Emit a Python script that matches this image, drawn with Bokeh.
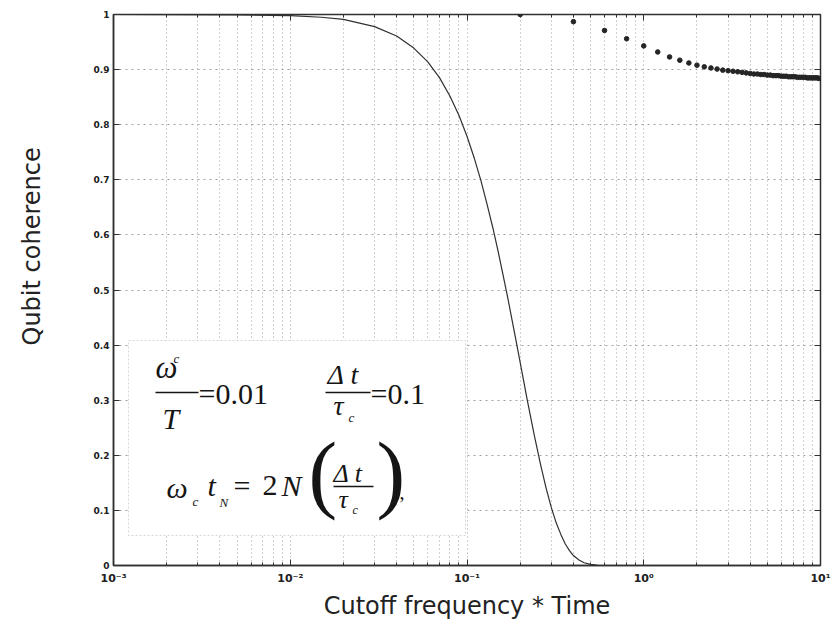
import math
from bokeh.plotting import figure
from bokeh.models import (FixedTicker, CustomJSTickFormatter, LinearAxis, LogAxis,
                          BoxAnnotation, Label, Title)
from bokeh.embed import file_html
from bokeh.resources import INLINE

# ---------------- data ----------------
curve_x = [0.001, 0.005, 0.01, 0.015, 0.02, 0.03, 0.04, 0.05, 0.06, 0.07, 0.08, 0.09,
           0.10, 0.11, 0.12, 0.13, 0.14, 0.15, 0.16, 0.17, 0.18, 0.19, 0.20, 0.22,
           0.24, 0.26, 0.28, 0.30, 0.32, 0.34, 0.36, 0.38, 0.40, 0.43, 0.46, 0.50,
           0.55, 0.60]
curve_y = [1.0, 0.9995, 0.998, 0.995, 0.991, 0.978, 0.961, 0.939, 0.914, 0.885, 0.852,
           0.817, 0.779, 0.739, 0.698, 0.655, 0.613, 0.570, 0.527, 0.486, 0.445, 0.406,
           0.368, 0.298, 0.237, 0.185, 0.141, 0.105, 0.077, 0.056, 0.039, 0.027, 0.018,
           0.010, 0.005, 0.002, 0.0005, 0.0]

dots_x = [0.2, 0.4, 0.6, 0.8, 1.0, 1.2, 1.4, 1.6, 1.8, 2.0, 2.2, 2.4, 2.6, 2.8, 3.0,
          3.2, 3.4, 3.6, 3.8, 4.0, 4.2, 4.4, 4.6, 4.8, 5.0, 5.2, 5.4, 5.6, 5.8, 6.0,
          6.2, 6.4, 6.6, 6.8, 7.0, 7.2, 7.4, 7.6, 7.8, 8.0, 8.2, 8.4, 8.6, 8.8, 9.0,
          9.2, 9.4, 9.6, 9.8, 10.0]
dots_y = [1.0, 0.987, 0.971, 0.956, 0.943, 0.932, 0.923, 0.917, 0.912, 0.908, 0.905,
          0.903, 0.901, 0.899, 0.898, 0.897, 0.896, 0.895, 0.894, 0.893, 0.892, 0.892,
          0.891, 0.891, 0.890, 0.890, 0.889, 0.889, 0.889, 0.888, 0.888, 0.888, 0.887,
          0.887, 0.887, 0.887, 0.886, 0.886, 0.886, 0.886, 0.886, 0.885, 0.885, 0.885,
          0.885, 0.885, 0.885, 0.885, 0.884, 0.884]

y_ticks = [0, 0.1, 0.2, 0.3, 0.4, 0.5, 0.6, 0.7, 0.8, 0.9, 1.0]
x_major = [0.001, 0.01, 0.1, 1, 10]

x_title = "Cutoff frequency * Time"
y_title = "Qubit coherence"

# ---------------- layout ----------------
W, H = 832, 629
FL, FR, FT, FB = 113, 12, 14, 64
FW, FH = W - FL - FR, H - FT - FB
X0, X1 = 1e-3, 10.0
NDEC = math.log10(X1) - math.log10(X0)


def px2x(px):
    return 10 ** (math.log10(X0) + (px - FL) / FW * NDEC)


def py2y(py):
    return (FT + FH - py) / FH


p = figure(width=W, height=H, x_axis_type="log", x_range=(X0, X1), y_range=(0, 1),
           output_backend="svg", toolbar_location=None,
           min_border_left=FL, min_border_right=FR, min_border_top=FT, min_border_bottom=FB)
p.background_fill_color = "white"
p.border_fill_color = "white"
p.outline_line_color = "#303030"
p.outline_line_width = 1.5

x_minor = [k * 10 ** e for e in range(-3, 1) for k in range(2, 10)]
xticker = FixedTicker(ticks=x_major, minor_ticks=x_minor)
yticker = FixedTicker(ticks=y_ticks)

xfmt = CustomJSTickFormatter(code="""
const sup = {'-':'\u207b','0':'\u2070','1':'\u00b9','2':'\u00b2','3':'\u00b3','4':'\u2074',
             '5':'\u2075','6':'\u2076','7':'\u2077','8':'\u2078','9':'\u2079'};
const e = Math.round(Math.log10(tick));
return '10' + String(e).split('').map(c => sup[c]).join('');
""")
yfmt = CustomJSTickFormatter(code="return (Math.round(tick*10)/10).toString();")
blank = CustomJSTickFormatter(code="return '';")

xa = p.below[0]
xa.ticker = xticker
xa.formatter = xfmt
xa.major_tick_in = 6
xa.major_tick_out = 0
xa.minor_tick_in = 3
xa.minor_tick_out = 0
xa.axis_line_color = "#303030"
xa.axis_line_width = 1.5
xa.major_tick_line_color = "#303030"
xa.minor_tick_line_color = "#303030"
xa.major_label_standoff = 6
xa.major_label_text_font = "DejaVu Sans"
xa.major_label_text_font_style = "bold"
xa.major_label_text_font_size = "11px"
xa.major_label_text_color = "#202020"
xa.axis_label = x_title
xa.axis_label_standoff = 4
xa.axis_label_text_font = "DejaVu Sans"
xa.axis_label_text_font_style = "normal"
xa.axis_label_text_font_size = "24px"
xa.axis_label_text_color = "#222222"

ya = p.left[0]
ya.ticker = yticker
ya.formatter = yfmt
ya.major_tick_in = 6
ya.major_tick_out = 0
ya.minor_tick_line_color = None
ya.axis_line_color = "#303030"
ya.axis_line_width = 1.5
ya.major_tick_line_color = "#303030"
ya.major_label_standoff = 4
ya.major_label_text_font = "DejaVu Sans"
ya.major_label_text_font_style = "bold"
ya.major_label_text_font_size = "9px"
ya.major_label_text_color = "#202020"

# spacer between the y tick labels and the y title, then the title itself
p.add_layout(Title(text=" ", standoff=37, text_font_size="1px"), "left")
p.add_layout(Title(text=y_title, align="left", offset=220, standoff=6, vertical_align="top",
                   text_font="DejaVu Sans", text_font_style="normal",
                   text_font_size="24px", text_color="#222222"), "left")

# mirrored tick axes (top / right), no labels
top = LogAxis(ticker=xticker, formatter=blank, major_tick_in=6, major_tick_out=0,
              minor_tick_in=3, minor_tick_out=0, axis_line_color=None,
              major_tick_line_color="#303030", minor_tick_line_color="#303030",
              major_label_standoff=0)
p.add_layout(top, "above")
right = LinearAxis(ticker=yticker, formatter=blank, major_tick_in=6, major_tick_out=0,
                   minor_tick_line_color=None, axis_line_color=None,
                   major_tick_line_color="#303030", major_label_standoff=0)
p.add_layout(right, "right")

# grid
p.xgrid.grid_line_color = "#a0a0a0"
p.xgrid.grid_line_dash = "1 3"
p.xgrid.minor_grid_line_color = "#a0a0a0"
p.xgrid.minor_grid_line_dash = "1 3"
p.ygrid.grid_line_color = "#a0a0a0"
p.ygrid.grid_line_dash = "2 4"

# data
p.line(curve_x, curve_y, line_color="#303030", line_width=1.2)
p.scatter(dots_x, dots_y, marker="circle", size=4.6, fill_color="#252525",
          line_color="#252525")

# formula box
p.add_layout(BoxAnnotation(left=px2x(128), right=px2x(465), top=py2y(340), bottom=py2y(535),
                           fill_color="white", fill_alpha=1.0, line_color="#7a7a7a",
                           line_dash="2 2", line_width=1))


def bar(x0, x1, yc):
    p.add_layout(BoxAnnotation(left=px2x(x0), right=px2x(x1), top=py2y(yc - 0.8),
                               bottom=py2y(yc + 0.8), fill_color="#151515", fill_alpha=1.0,
                               line_color=None))


def lab(text, px, py, size, style="italic", font="Liberation Serif"):
    # py is the wanted baseline; compensate the renderer's baseline placement
    p.add_layout(Label(x=px2x(px), y=py2y(py - 0.34 * size), text=text, text_font=font,
                       text_font_size=f"{size}px", text_font_style=style,
                       text_align="left", text_baseline="alphabetic",
                       text_color="#151515"))


# line 1
lab("\u03c9", 155, 378, 31)
lab("c", 173, 362, 13)
bar(155, 198, 392)
lab("T", 162, 428, 30)
lab("=0.01", 198, 403, 30, style="normal")
lab("\u0394 t", 327, 384, 28)
bar(325, 370, 392)
lab("\u03c4", 333, 415, 28)
lab("c", 348, 421, 13)
lab("=0.1", 370, 403, 30, style="normal")

# line 2
lab("\u03c9", 166, 497, 30)
lab("c", 192, 505, 13)
lab("t", 207, 495, 30)
lab("N", 219, 506, 13)
lab("=", 233, 495, 30, style="normal")
lab("2", 262, 495, 30, style="normal")
lab("N", 281, 495, 30)
lab("(", 308, 502, 86, style="normal")
lab("\u0394 t", 333, 482, 26)
bar(333, 373, 486)
lab("\u03c4", 338, 508, 26)
lab("c", 352, 514, 12)
lab(")", 376, 502, 86, style="normal")
lab(",", 399, 498, 20, style="normal")

open("out.html", "w").write(file_html(p, INLINE))
